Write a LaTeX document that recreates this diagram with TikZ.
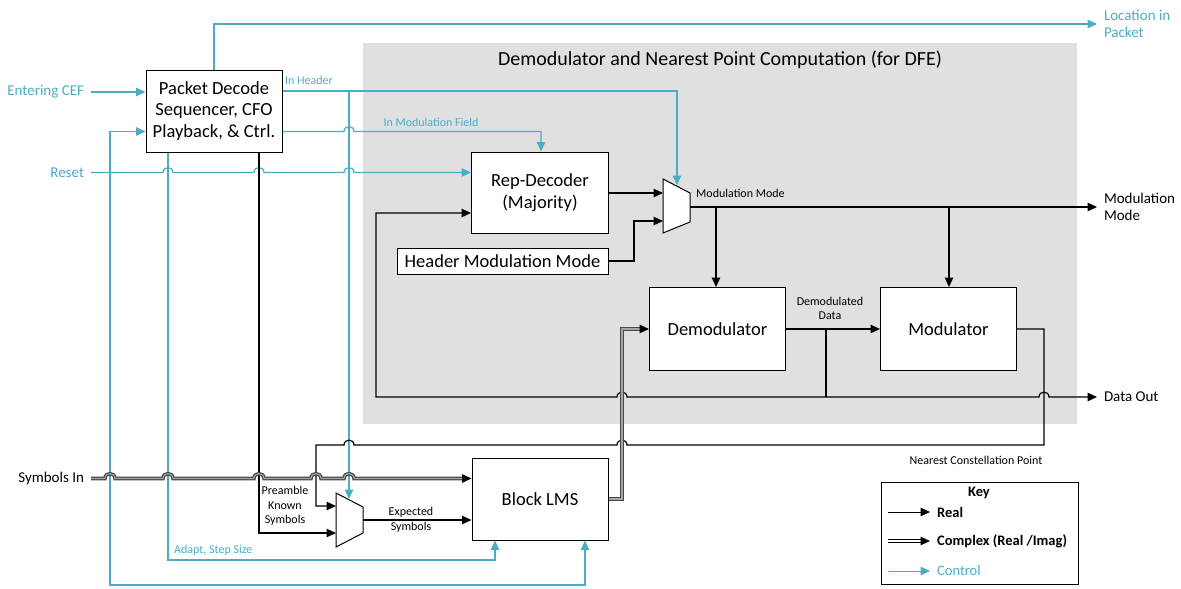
\documentclass[tikz,border=0pt]{standalone}
\usepackage{fontspec}
\setmainfont{Carlito}
\usetikzlibrary{arrows.meta,calc}
\definecolor{ctlc}{RGB}{75,172,198}
\definecolor{regionc}{RGB}{224,224,224}

\tikzset{
  ln/.style={line width=1.2pt, draw=black},
  ctl/.style={line width=1.2pt, draw=ctlc},
  cplx/.style={draw=black!35, line width=1.1pt, preaction={draw=black!72, line width=3.6pt}},
  cplxkey/.style={draw=white, line width=1.1pt, preaction={draw=black, line width=3.3pt}},
  tip/.style={-{Triangle[length=9.5pt,width=8.5pt]}},
  both/.style={{Triangle[length=9.5pt,width=8.5pt]}-{Triangle[length=9.5pt,width=8.5pt]}},
  blk/.style={draw, line width=1pt, fill=white, inner sep=0, align=center,
    font=\fontsize{18.5}{21.5}\selectfont},
  side/.style={inner sep=0, outer sep=7pt, align=left, font=\fontsize{15}{17}\selectfont},
  tiny/.style={inner sep=0, align=center, font=\fontsize{12}{14.5}\selectfont},
  keyl/.style={inner sep=0, anchor=west, font=\bfseries\fontsize{14.5}{16}\selectfont},
  mux/.style={line width=1pt, draw=black, fill=white},
  hopr/.style args={#1/#2}{insert path={-- (#1-5,#2) .. controls (#1-5,#2-6.5) and (#1+5,#2-6.5) .. (#1+5,#2)}},
  hopl/.style args={#1/#2}{insert path={-- (#1+5,#2) .. controls (#1+5,#2-6.5) and (#1-5,#2-6.5) .. (#1-5,#2)}},
}

\begin{document}
\begin{tikzpicture}[x=1pt,y=-1pt]
\useasboundingbox (0,0) rectangle (1181,589);

% shaded region of the demodulator
\fill[regionc] (363,43) rectangle (1077,424);
\node[font=\fontsize{20}{24}\selectfont] (ttl) at (720,60)
  {Demodulator and Nearest Point Computation (for DFE)};

% processing blocks
\node[blk, minimum width=136, minimum height=82] (pd) at (214,111)
  {Packet Decode\\Sequencer, CFO\\Playback, \& Ctrl.};
\node[blk, minimum width=137, minimum height=81] (rep) at (540,192.5) {Rep-Decoder\\(Majority)};
\node[blk, minimum width=211, minimum height=26] (hmm) at (502.5,261) {Header Modulation Mode};
\node[blk, minimum width=136, minimum height=83] (dm) at (717.5,329) {Demodulator};
\node[blk, minimum width=136, minimum height=83] (mod) at (948.5,329) {Modulator};
\node[blk, minimum width=136, minimum height=82] (lms) at (540,499) {Block LMS};

% multiplexers
\draw[mux] (663,179) -- (690,193) -- (690,222) -- (663,233) -- cycle;
\coordinate (m1a) at (663,193);
\coordinate (m1b) at (663,221);
\coordinate (m1o) at (690,207);
\coordinate (m1t) at (677,185);
\draw[mux] (336,493) -- (363,507) -- (363,533) -- (336,547) -- cycle;
\coordinate (m2a) at (336,506);
\coordinate (m2b) at (336,533);
\coordinate (m2o) at (363,520);
\coordinate (m2t) at (349,499);

% outside inputs and outputs
\node[side, anchor=east, text=ctlc] (cef) at (91,92) {Entering CEF};
\node[side, anchor=east, text=ctlc] (rst) at (91,172.5) {Reset};
\node[side, anchor=east] (sym) at (91,478.5) {Symbols In};
\node[side, anchor=west, text=ctlc] (loc) at (1097,24) {Location in\\Packet};
\node[side, anchor=west] (mmo) at (1097,207) {Modulation\\Mode};
\node[side, anchor=west] (dout) at (1097,397) {Data Out};

% control paths
\draw[ctl,tip] (pd.north) -- (pd.north|-loc.west) -- (loc.west);
\draw[ctl,tip] (cef.east) -- (pd.west|-cef.east);
\coordinate (jh) at (349,91);
\draw[ctl,tip] (pd.east|-jh) -- (m1t|-jh) -- (m1t);
\draw[ctl,tip] (jh) -- (m2t);
\node[tiny, text=ctlc, anchor=west] (lh) at (285,80) {In Header};
\coordinate (mf) at (541,131.5);
\draw[ctl,tip] (pd.east|-mf) [hopr=349/131.5] -- (mf) -- (mf|-rep.north);
\node[tiny, text=ctlc] (lmf) at (431,122) {In Modulation Field};
\draw[ctl,tip] (rst.east) [hopr=168/172.5] [hopr=259/172.5] [hopr=349/172.5] -- (rep.west|-rst.east);
\coordinate (fb) at (585,585);
\coordinate (fa) at (110,585);
\coordinate (pin) at (110,131.5);
\draw[ctl,both] (fb|-lms.south) -- (fb) -- (fa) -- (pin) -- (pd.west|-pin);
\coordinate (ad1) at (168,560);
\coordinate (ad2) at (495,560);
\draw[ctl,tip] (pd.south-|ad1) -- (ad1) -- (ad2) -- (ad2|-lms.south);
\node[tiny, text=ctlc, anchor=west] (lad) at (174,550) {Adapt, Step Size};

% real-valued paths
\coordinate (pr) at (259,533);
\draw[ln,tip] (pd.south-|pr) -- (pr) -- (m2b);
\node[tiny] (lpr) at (285,506) {Preamble\\Known\\Symbols};
\draw[ln,tip] (m2o) -- (lms.west|-m2o);
\node[tiny] (lex) at (411,520) {Expected\\Symbols};
\draw[ln,tip] (rep.east|-m1a) -- (m1a);
\coordinate (hb) at (634,261);
\draw[ln,tip] (hmm.east) -- (hmm.east-|hb) -- (hb|-m1b) -- (m1b);
\draw[ln,tip] (m1o) -- (mmo.west);
\node[tiny, anchor=west] (lmm) at (696,193) {Modulation Mode};
\coordinate (j1) at (716,207);
\coordinate (j2) at (949,207);
\draw[ln,tip] (j1) -- (j1|-dm.north);
\draw[ln,tip] (j2) -- (j2|-mod.north);
\draw[ln,tip] (dm.east) -- (mod.west);
\node[tiny] (ldd) at (830,308.5) {Demodulated\\Data};
\coordinate (j3) at (826,329);
\coordinate (j4) at (826,397);
\draw[ln] (j3) -- (j4);
\draw[ln,tip] (j4) [hopr=1044/397] -- (dout.west);
\coordinate (fbk) at (376,397);
\coordinate (fbt) at (376,213);
\draw[ln,tip] (j4) [hopl=622/397] -- (fbk) -- (fbt) -- (rep.west|-fbt);
\coordinate (nc1) at (1044,329);
\coordinate (nc2) at (1044,445);
\coordinate (nc3) at (316,445);
\draw[ln,tip] (mod.east) -- (nc1) -- (nc2) [hopl=622/445] [hopl=349/445] -- (nc3) -- (nc3|-m2a) -- (m2a);
\node[tiny] (lnc) at (976,460) {Nearest Constellation Point};

% complex-valued paths (drawn up to the arrow base, tip added on top)
\coordinate (si) at ($(lms.west|-sym.east)+(-8,0)$);
\draw[cplx] (sym.east) [hopr=110/478.5] [hopr=168/478.5] [hopr=259/478.5]
  [hopr=316/478.5] [hopr=349/478.5] -- (si);
\draw[ln,tip] ($(si)+(-1,0)$) -- (lms.west|-sym.east);
\coordinate (lc) at (622,500);
\coordinate (di) at ($(dm.west)+(-8,0)$);
\draw[cplx] (lms.east) -- (lms.east-|lc) -- (lc|-dm.west) -- (di);
\draw[ln,tip] ($(di)+(-1,0)$) -- (dm.west);

% legend
\node[draw, line width=1pt, minimum width=197, minimum height=102, inner sep=0] (key) at (979.5,533) {};
\node[font=\bfseries\fontsize{14.5}{16}\selectfont, inner sep=0] (keyt) at (979,493) {Key};
\coordinate (k1a) at (888,512);
\coordinate (k1b) at (930,512);
\coordinate (k2a) at (888,541);
\coordinate (k2b) at (930,541);
\coordinate (k2c) at (922,541);
\coordinate (k3a) at (888,571);
\coordinate (k3b) at (930,571);
\draw[ln,tip,line width=1pt] (k1a) -- (k1b);
\draw[cplxkey] (k2a) -- (k2c);
\draw[ln,tip] ($(k2c)+(-1,0)$) -- (k2b);
\draw[ctl,tip,line width=1pt] (k3a) -- (k3b);
\node[keyl] (kr) at (937,512) {Real};
\node[keyl] (kc) at (937,541) {Complex (Real /Imag)};
\node[keyl, text=ctlc, font=\fontsize{14.5}{16}\selectfont] (kk) at (937,571) {Control};
\end{tikzpicture}
\end{document}
